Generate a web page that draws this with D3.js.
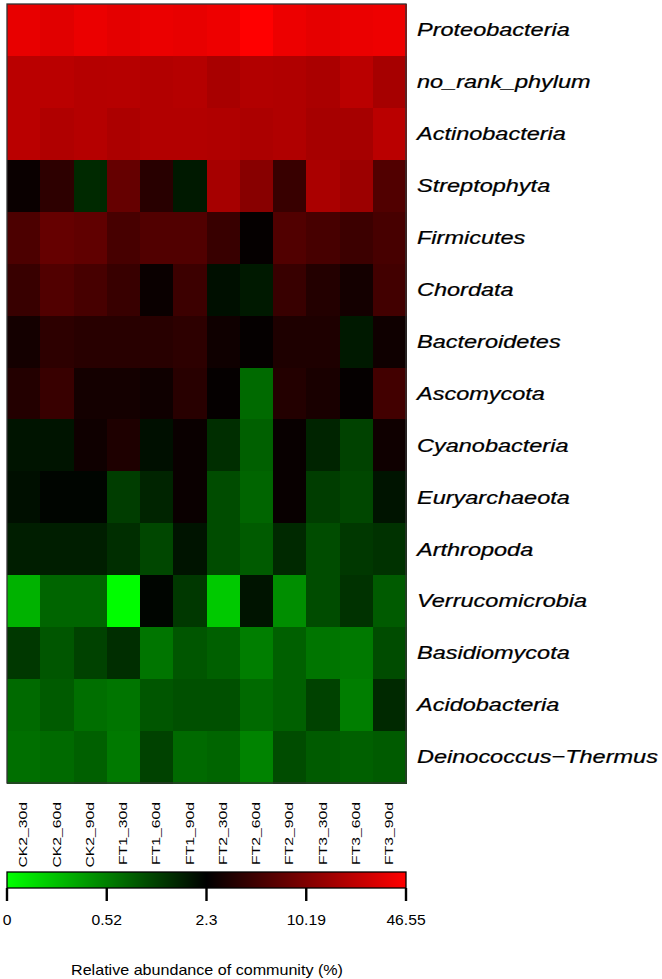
<!DOCTYPE html>
<html>
<head>
<meta charset="utf-8">
<script src="https://cdn.jsdelivr.net/npm/d3@7"></script>
<style>
  body { margin: 0; background: #fff; }
  svg { display: block; font-family: 'Liberation Sans', Arial, sans-serif; }
</style>
</head>
<body>
<svg width="662" height="979"></svg>
<script>
// samples (columns) and phyla (rows)
const samples = ['CK2_30d', 'CK2_60d', 'CK2_90d', 'FT1_30d', 'FT1_60d', 'FT1_90d',
  'FT2_30d', 'FT2_60d', 'FT2_90d', 'FT3_30d', 'FT3_60d', 'FT3_90d'];

const phyla = ['Proteobacteria', 'no_rank_phylum', 'Actinobacteria', 'Streptophyta',
  'Firmicutes', 'Chordata', 'Bacteroidetes', 'Ascomycota', 'Cyanobacteria',
  'Euryarchaeota', 'Arthropoda', 'Verrucomicrobia', 'Basidiomycota',
  'Acidobacteria', 'Deinococcus\u2212Thermus'];

// relative abundance (%) per phylum, one value per sample (estimated from colours)
const proteobacteria = [35.4, 32.7, 36.7, 33.8, 36.7, 35.4, 38.1, 46.5, 37.4, 34.6, 36.7, 38.1];
const noRankPhylum   = [20.4, 20.4, 19.2, 19.6, 18.7, 19.2, 16.6, 18.7, 18.1, 17.0, 20.4, 16.1];
const actinobacteria = [20.4, 18.1, 19.2, 17.4, 18.7, 18.7, 18.1, 17.4, 18.1, 16.1, 16.1, 20.4];
const streptophyta   = [2.59, 3.91, 1.43, 7.48, 3.69, 1.71, 16.1, 11.3, 4.40, 17.0, 14.3, 5.91];
const firmicutes     = [5.57, 7.48, 7.05, 5.25, 5.91, 5.91, 4.40, 2.44, 5.91, 5.25, 4.66, 5.25];
const chordata       = [4.40, 5.91, 5.25, 4.40, 2.59, 4.66, 1.93, 1.71, 4.40, 3.47, 2.91, 4.95];
const bacteroidetes  = [2.91, 3.91, 3.69, 3.69, 3.69, 3.91, 2.74, 2.44, 3.28, 3.28, 1.71, 2.74];
const ascomycota     = [3.47, 4.40, 2.91, 2.91, 2.74, 3.69, 2.44, 0.67, 3.47, 3.09, 2.44, 4.95];
const cyanobacteria  = [1.82, 1.82, 2.74, 3.28, 1.93, 2.59, 1.35, 0.75, 2.52, 1.52, 1.07, 2.74];
const euryarchaeota  = [1.93, 2.17, 2.17, 1.13, 1.52, 2.59, 0.95, 0.71, 2.52, 1.13, 1.01, 1.82];
const arthropoda     = [1.62, 1.62, 1.62, 1.35, 1.01, 1.82, 0.95, 0.80, 1.43, 0.95, 1.20, 1.28];
const verrucomicrobia = [0.29, 0.71, 0.71, 0.12, 2.17, 1.20, 0.22, 1.82, 0.44, 0.95, 1.28, 0.80];
const basidiomycota  = [1.20, 0.84, 1.07, 1.35, 0.59, 0.84, 0.75, 0.53, 0.75, 0.59, 0.56, 0.95];
const acidobacteria  = [0.67, 0.80, 0.63, 0.59, 0.84, 0.90, 0.90, 0.67, 0.75, 1.07, 0.53, 1.43];
const deinococcus    = [0.63, 0.67, 0.75, 0.56, 1.07, 0.67, 0.71, 0.50, 0.95, 0.80, 0.75, 0.80];

const rows = [proteobacteria, noRankPhylum, actinobacteria, streptophyta, firmicutes,
  chordata, bacteroidetes, ascomycota, cyanobacteria, euryarchaeota, arthropoda,
  verrucomicrobia, basidiomycota, acidobacteria, deinococcus];

// colour key breaks and their printed labels
const legendBreaks = [0.1175, 0.52, 2.3, 10.19, 46.55];
const legendLabels = ['0', '0.52', '2.3', '10.19', '46.55'];

const svg = d3.select('svg');
const plotLeft = 7, plotRight = 406, plotTop = 4, plotBottom = 783;

const x = d3.scaleBand().domain(samples).range([plotLeft, plotRight]);
const y = d3.scaleBand().domain(phyla).range([plotTop, plotBottom]);

// value -> position on key (0..1) -> colour
const keyPos = d3.scaleLog()
  .domain(legendBreaks)
  .range([0, 0.25, 0.5, 0.75, 1])
  .clamp(true);
const ramp = d3.scaleLinear()
  .domain([0, 0.5, 1])
  .range(['#00ff00', '#000000', '#ff0000']);
const color = (v) => ramp(keyPos(v));

const cells = [];
rows.forEach((vals, i) => {
  vals.forEach((v, j) => cells.push({ phylum: phyla[i], sample: samples[j], value: v }));
});

svg.append('g')
  .attr('shape-rendering', 'crispEdges')
  .selectAll('rect')
  .data(cells)
  .join('rect')
  .attr('x', (d) => x(d.sample))
  .attr('y', (d) => y(d.phylum))
  .attr('width', x.bandwidth() + 1)
  .attr('height', y.bandwidth() + 1)
  .attr('fill', (d) => color(d.value));

// frame
svg.append('rect')
  .attr('x', plotLeft).attr('y', plotTop)
  .attr('width', plotRight - plotLeft).attr('height', plotBottom - plotTop)
  .attr('fill', 'none')
  .attr('stroke', '#333')
  .attr('stroke-width', 1.3);

// row labels
svg.append('g')
  .selectAll('text')
  .data(phyla)
  .join('text')
  .attr('transform', (d) => `translate(417,${y(d) + y.bandwidth() / 2}) scale(1.237,1)`)
  .attr('dominant-baseline', 'central')
  .attr('font-size', 19)
  .attr('font-style', 'italic')
  .attr('fill', '#000')
  .attr('stroke', '#000')
  .attr('stroke-width', 0.25)
  .text((d) => d);

// column labels
svg.append('g')
  .selectAll('text')
  .data(samples)
  .join('text')
  .attr('transform', (d) => `translate(${x(d) + x.bandwidth() / 2},802) rotate(-90) scale(1.43,1)`)
  .attr('text-anchor', 'end')
  .attr('dominant-baseline', 'central')
  .attr('font-size', 11)
  .attr('fill', '#000')
  .text((d) => d);

// colour key
const keyTop = 872, keyH = 16;
const defs = svg.append('defs');
const grad = defs.append('linearGradient').attr('id', 'keygrad');
grad.selectAll('stop')
  .data(d3.range(0, 1.001, 0.05))
  .join('stop')
  .attr('offset', (d) => d)
  .attr('stop-color', (d) => ramp(d));

svg.append('rect')
  .attr('x', plotLeft).attr('y', keyTop)
  .attr('width', plotRight - plotLeft).attr('height', keyH)
  .attr('fill', 'url(#keygrad)')
  .attr('stroke', '#000')
  .attr('stroke-width', 1.3);

const keyX = d3.scaleLinear().domain([0, 1]).range([plotLeft, plotRight]);
const keyTicks = svg.append('g')
  .selectAll('g')
  .data(legendBreaks)
  .join('g')
  .attr('transform', (d) => `translate(${keyX(keyPos(d))},${keyTop + keyH})`);

// tick marks under the key
keyTicks.append('rect')
  .attr('x', -1.2)
  .attr('y', 0)
  .attr('width', 2.4)
  .attr('height', 13)
  .attr('fill', '#000');

keyTicks.append('text')
  .attr('y', 37)
  .attr('transform', 'scale(1.12,1)')
  .attr('text-anchor', 'middle')
  .attr('font-size', 14)
  .attr('fill', '#000')
  .text((d, i) => legendLabels[i]);

svg.append('text')
  .attr('transform', 'translate(207,970) scale(1.15,1)')
  .attr('text-anchor', 'middle')
  .attr('dominant-baseline', 'central')
  .attr('font-size', 14)
  .attr('fill', '#000')
  .text('Relative abundance of community (%)');
</script>
</body>
</html>
